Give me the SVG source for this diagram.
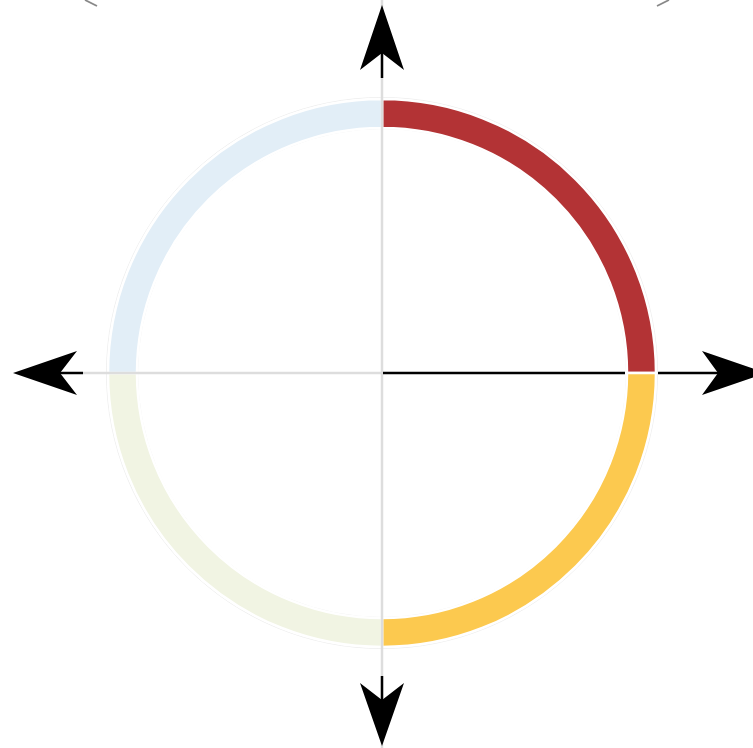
<svg xmlns="http://www.w3.org/2000/svg" width="753" height="748" viewBox="0 0 753 748">
<style>
.seg{stroke:#fff;stroke-width:2.5}
.axis{stroke:#dddddd;stroke-width:2.5;fill:none}
.dark{stroke:#000;stroke-width:2.5;fill:none}
.head{fill:#000}
</style>
<rect width="753" height="748" fill="#fff"/>
<g id="corners">
<line x1="85" y1="0" x2="97" y2="6" stroke="#888" stroke-width="1.8"/>
<line x1="657" y1="6" x2="669" y2="0" stroke="#888" stroke-width="1.8"/>
</g>
<g id="ring">
<circle cx="382" cy="373" r="275.5" fill="none" stroke="#eeeeee" stroke-width="1"/>
<circle cx="382" cy="373" r="244.5" fill="none" stroke="#eeeeee" stroke-width="1"/>
<path id="q-tr" class="seg" fill="#b33335" d="M382,99 A274,274 0 0 1 656,373 L627,373 A245,245 0 0 0 382,128 Z"/>
<path id="q-br" class="seg" fill="#fcc94f" d="M656,373 A274,274 0 0 1 382,647 L382,618 A245,245 0 0 0 627,373 Z"/>
<path id="q-bl" class="seg" fill="#f1f4e3" d="M382,647 A274,274 0 0 1 108,373 L137,373 A245,245 0 0 0 382,618 Z"/>
<path id="q-tl" class="seg" fill="#e2eef7" d="M108,373 A274,274 0 0 1 382,99 L382,128 A245,245 0 0 0 137,373 Z"/>
</g>
<g id="connectors">
<line class="axis" x1="382" y1="0" x2="382" y2="748"/>
<line class="axis" x1="83" y1="373" x2="382" y2="373"/>
<line class="dark" x1="383" y1="373" x2="625" y2="373"/>
<line class="dark" x1="658" y1="373" x2="720" y2="373"/>
<line class="dark" x1="382" y1="50" x2="382" y2="78"/>
<line class="dark" x1="382" y1="676" x2="382" y2="702"/>
<line class="dark" x1="58" y1="373" x2="83" y2="373"/>
<polygon class="head" points="382,5 404,70 382,53 360,70"/>
<polygon class="head" points="382,746 360,683 382,700 404,683"/>
<polygon class="head" points="13,373 77,351 60,373 77,395"/>
<polygon class="head" points="766,373 702,351 718,373 702,395"/>
</g>
</svg>
